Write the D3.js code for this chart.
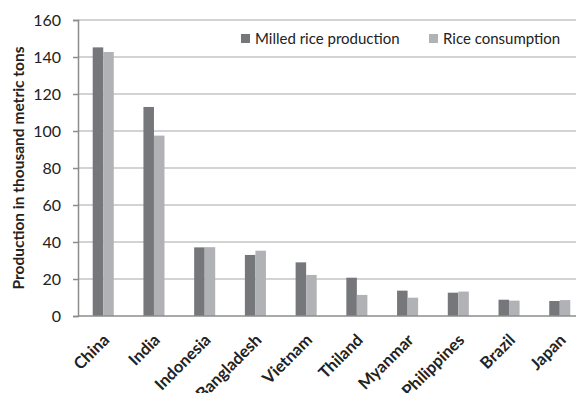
<!DOCTYPE html>
<html>
<head>
<meta charset="utf-8">
<script src="https://cdn.jsdelivr.net/npm/d3@7"></script>
<style>
  html, body { margin: 0; padding: 0; background: #fff; }
  svg { display: block; font-family: Lato, "Open Sans", sans-serif; }
</style>
</head>
<body>
<svg id="chart" width="576" height="393"></svg>
<script>
// Rice production and consumption by country (thousand metric tons)
const countries = ["China", "India", "Indonesia", "Bangladesh", "Vietnam", "Thiland", "Myanmar", "Philippines", "Brazil", "Japan"];
const production = [145.2, 113, 37.1, 33, 29, 20.7, 13.7, 12.6, 8.8, 8.1];
const consumption = [142.7, 97.5, 37.2, 35.3, 22.2, 11.4, 9.9, 13.2, 8.3, 8.6];
const seriesNames = ["Milled rice production", "Rice consumption"];
const yTicks = [0, 20, 40, 60, 80, 100, 120, 140, 160];

const colors = ["#76777b", "#b1b2b6"];
const font = "Lato, 'Open Sans', sans-serif";
const svg = d3.select("#chart");
const plotLeft = 78, plotRight = 585, plotTop = 20, plotBottom = 316;

const x = d3.scaleBand().domain(countries).range([plotLeft, plotRight]).paddingInner(0.585).paddingOuter(0.29);
const x1 = d3.scaleBand().domain([0, 1]).range([0, x.bandwidth()]);
const y = d3.scaleLinear().domain([0, 160]).range([plotBottom, plotTop]);

// horizontal gridlines
svg.append("g").selectAll("line").data(yTicks.filter(d => d > 0)).join("line")
  .attr("x1", plotLeft).attr("x2", 576)
  .attr("y1", d => y(d)).attr("y2", d => y(d))
  .attr("stroke", "#c4c4c4").attr("stroke-width", 1.5);

// bars
const rows = countries.map((c, i) => ({ c, v: [production[i], consumption[i]] }));
const groups = svg.append("g").selectAll("g").data(rows).join("g")
  .attr("transform", d => `translate(${x(d.c)},0)`);
groups.selectAll("rect").data(d => d.v.map((v, k) => ({ v, k }))).join("rect")
  .attr("x", d => x1(d.k)).attr("width", x1.bandwidth())
  .attr("y", d => y(d.v)).attr("height", d => y(0) - y(d.v))
  .attr("fill", d => colors[d.k]);

// y axis
const yAxis = svg.append("g").attr("transform", `translate(${plotLeft},0)`)
  .call(d3.axisLeft(y).tickValues(yTicks).tickSize(5).tickPadding(12))
  .attr("font-family", font).attr("font-size", 16);
yAxis.select(".domain").attr("stroke", "#8c8c8c").attr("stroke-width", 1.5);
yAxis.selectAll(".tick line").attr("stroke", "#8c8c8c").attr("stroke-width", 1.5);
yAxis.selectAll(".tick text").attr("fill", "#222");

// x axis with rotated country names
const xAxis = svg.append("g").attr("transform", `translate(0,${plotBottom})`)
  .call(d3.axisBottom(x).tickSize(0).tickPadding(0))
  .attr("font-family", font).attr("font-size", 16.5).attr("font-weight", "bold");
xAxis.select(".domain").attr("stroke", "#8c8c8c").attr("stroke-width", 1.5)
  .attr("d", `M${plotLeft},0H576`);
xAxis.selectAll(".tick text")
  .attr("fill", "#222")
  .attr("text-anchor", "end")
  .attr("transform", "translate(3,21) rotate(-45)")
  .attr("dy", "0.35em");

// y axis title
svg.append("text")
  .attr("transform", `translate(24,168) rotate(-90)`)
  .attr("text-anchor", "middle")
  .attr("font-size", 15.5).attr("font-weight", "bold").attr("fill", "#222")
  .text("Production in thousand metric tons");

// legend
const legendX = [241, 429];
const legend = svg.append("g").selectAll("g").data(seriesNames).join("g")
  .attr("transform", (d, i) => `translate(${legendX[i]},39)`);
legend.append("rect").attr("x", 0).attr("y", -5).attr("width", 9).attr("height", 9)
  .attr("fill", (d, i) => colors[i]);
legend.append("text").attr("x", 14).attr("y", 0).attr("dy", "0.35em")
  .attr("font-size", 15).attr("fill", "#222").text(d => d);
</script>
</body>
</html>
